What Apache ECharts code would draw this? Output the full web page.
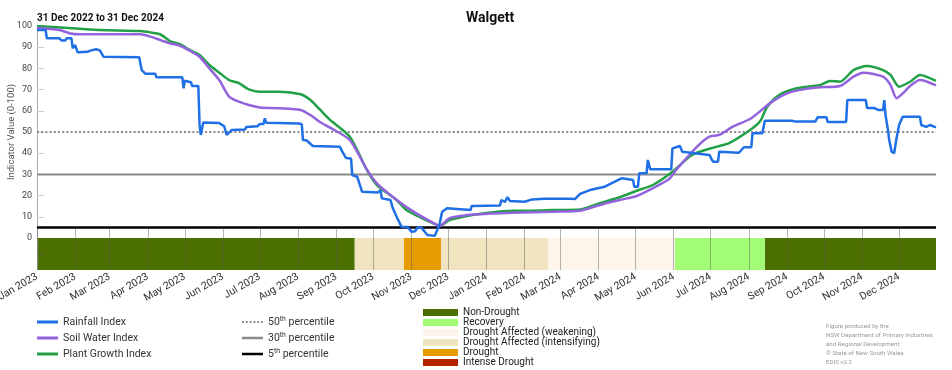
<!DOCTYPE html>
<html><head><meta charset="utf-8">
<script src="https://cdn.jsdelivr.net/npm/echarts@6/dist/echarts.min.js"></script>
<style>html,body{margin:0;padding:0;background:#fff}#c{width:952px;height:370px}</style>
</head><body><div id="c"></div>
<script>
const xMin = '2023-01-01';
const xMax = '2024-12-31';
const monthTicks = ['2023-01-01','2023-02-01','2023-03-01','2023-04-01','2023-05-01','2023-06-01','2023-07-01','2023-08-01','2023-09-01','2023-10-01','2023-11-01','2023-12-01',
  '2024-01-01','2024-02-01','2024-03-01','2024-04-01','2024-05-01','2024-06-01','2024-07-01','2024-08-01','2024-09-01','2024-10-01','2024-11-01','2024-12-01'];
const monthLabels = ['Jan 2023','Feb 2023','Mar 2023','Apr 2023','May 2023','Jun 2023','Jul 2023','Aug 2023','Sep 2023','Oct 2023','Nov 2023','Dec 2023',
  'Jan 2024','Feb 2024','Mar 2024','Apr 2024','May 2024','Jun 2024','Jul 2024','Aug 2024','Sep 2024','Oct 2024','Nov 2024','Dec 2024'];
const yAxisTitle = 'Indicator Value (0-100)';

const rainfall = [['2023-01-01',98.1],['2023-01-08',98.1],['2023-01-09',94.2],['2023-01-19',94.2],['2023-01-21',93.2],['2023-01-24',93.2],['2023-01-25',94.2],['2023-01-29',94.2],['2023-01-30',89.5],['2023-02-01',91],['2023-02-03',87.6],['2023-02-11',87.8],['2023-02-14',88.5],['2023-02-18',89],['2023-02-21',88.5],['2023-02-24',85.5],['2023-03-25',85.3],['2023-03-27',79.2],['2023-03-30',77.5],['2023-04-07',77.5],['2023-04-08',75.8],['2023-04-29',75.8],['2023-04-30',70.6],['2023-05-01',74.2],['2023-05-06',73.5],['2023-05-07',71.7],['2023-05-12',71.7],['2023-05-13',53.5],['2023-05-14',48.6],['2023-05-16',54.5],['2023-05-29',54.2],['2023-06-02',52.7],['2023-06-04',48.6],['2023-06-08',50.9],['2023-06-19',51.2],['2023-06-20',52.4],['2023-06-29',52.7],['2023-07-01',53.8],['2023-07-04',53.8],['2023-07-05',56.5],['2023-07-06',54.4],['2023-08-02',54],['2023-08-04',53.6],['2023-08-05',46.2],['2023-08-08',46],['2023-08-13',43.4],['2023-09-04',43],['2023-09-06',40.6],['2023-09-09',37.7],['2023-09-13',37.5],['2023-09-14',29.7],['2023-09-18',28.9],['2023-09-22',21.8],['2023-10-05',21.5],['2023-10-07',22.6],['2023-10-08',18.7],['2023-10-15',17.9],['2023-10-16',17.1],['2023-10-17',14],['2023-10-20',10],['2023-10-24',5.3],['2023-10-29',5.2],['2023-11-01',3],['2023-11-04',3.2],['2023-11-06',5],['2023-11-09',5],['2023-11-14',1.4],['2023-11-20',1],['2023-11-22',3.8],['2023-11-24',6.9],['2023-11-26',12.4],['2023-11-30',14],['2023-12-19',13.2],['2023-12-20',15.1],['2024-01-12',15.3],['2024-01-13',17.9],['2024-01-16',17],['2024-01-18',19.3],['2024-01-20',17.5],['2024-02-01',17.1],['2024-02-07',18.2],['2024-02-17',18.5],['2024-03-08',18.5],['2024-03-13',18.4],['2024-03-17',20.8],['2024-03-25',22.6],['2024-04-06',24.2],['2024-04-20',28.2],['2024-04-29',27.4],['2024-04-30',24.2],['2024-05-03',24.2],['2024-05-04',30.5],['2024-05-10',30.5],['2024-05-11',36.8],['2024-05-13',32.4],['2024-05-30',32.4],['2024-05-31',42.3],['2024-06-06',43.4],['2024-06-08',40.7],['2024-06-30',39.2],['2024-07-02',37],['2024-07-03',36],['2024-07-07',36],['2024-07-08',40.7],['2024-07-24',40.2],['2024-07-28',42.8],['2024-08-03',42.8],['2024-08-04',49.4],['2024-08-12',49.4],['2024-08-14',55.3],['2024-09-05',55.3],['2024-09-08',54.9],['2024-09-24',54.9],['2024-09-26',57],['2024-10-03',57],['2024-10-04',54.7],['2024-10-19',54.7],['2024-10-20',65.1],['2024-11-04',65.1],['2024-11-05',61.3],['2024-11-11',61.3],['2024-11-14',60.4],['2024-11-18',60.4],['2024-11-19',65],['2024-11-20',58],['2024-11-22',51],['2024-11-23',46.2],['2024-11-25',40.7],['2024-11-27',40],['2024-11-29',47.2],['2024-12-01',53.3],['2024-12-04',57.2],['2024-12-18',57.2],['2024-12-19',53.3],['2024-12-23',52.4],['2024-12-26',53.3],['2024-12-31',52.2]];

const soilWater = [['2023-01-01',99.2],['2023-01-19',98.1],['2023-01-28',96.5],['2023-02-05',96.1],['2023-03-26',96.1],['2023-04-03',95],['2023-04-11',93.4],['2023-04-19',91.8],['2023-04-27',90.7],['2023-05-05',88.4],['2023-05-13',85.5],['2023-05-21',80],['2023-05-29',74.5],['2023-06-06',66.7],['2023-06-14',64.3],['2023-06-22',62.7],['2023-07-01',61.6],['2023-07-17',61.2],['2023-08-03',60.4],['2023-08-11',58],['2023-08-19',54.6],['2023-08-28',51.7],['2023-09-12',46.2],['2023-09-26',32.1],['2023-10-04',25.8],['2023-10-22',17.1],['2023-11-05',11.6],['2023-11-22',6.1],['2023-11-24',5.7],['2023-12-02',9.4],['2023-12-16',10.8],['2024-01-04',11.5],['2024-01-22',11.9],['2024-02-24',12.4],['2024-03-17',12.9],['2024-04-02',15.6],['2024-04-18',17.9],['2024-05-02',19.8],['2024-05-12',22.6],['2024-05-28',27.7],['2024-06-03',32.1],['2024-06-20',43.1],['2024-06-30',47.8],['2024-07-08',48.6],['2024-07-19',52.5],['2024-08-03',56.5],['2024-08-18',63.5],['2024-09-01',68.2],['2024-09-14',70.1],['2024-09-28',71.1],['2024-10-14',71.7],['2024-10-25',76.1],['2024-11-02',78],['2024-11-18',76.1],['2024-11-24',72.2],['2024-11-29',65.9],['2024-12-04',68.2],['2024-12-10',71.7],['2024-12-18',74.5],['2024-12-31',72]];

const plantGrowth = [['2023-01-01',100],['2023-02-05',98.7],['2023-02-21',98.1],['2023-03-26',97.6],['2023-04-03',97],['2023-04-11',96.1],['2023-04-19',92.9],['2023-04-27',91.4],['2023-05-05',88.7],['2023-05-13',86.3],['2023-05-21',81.6],['2023-05-29',78],['2023-06-06',74.5],['2023-06-14',73],['2023-06-22',70.1],['2023-07-01',69],['2023-07-17',69],['2023-08-03',67.8],['2023-08-11',65.1],['2023-08-19',60.4],['2023-08-27',55.7],['2023-09-12',47.8],['2023-09-26',32],['2023-10-04',25],['2023-10-20',17.9],['2023-10-28',13.2],['2023-11-10',9.3],['2023-11-22',6.1],['2023-11-24',5.7],['2023-12-02',8.5],['2023-12-16',10.4],['2023-12-29',11.6],['2024-01-22',12.9],['2024-02-07',12.9],['2024-02-24',13.2],['2024-03-17',13.5],['2024-04-02',16.4],['2024-04-18',19.2],['2024-05-02',22.3],['2024-05-15',25],['2024-05-31',31.3],['2024-06-16',39.2],['2024-07-06',43.1],['2024-07-16',44.7],['2024-08-02',50.9],['2024-08-10',54.9],['2024-08-16',61.9],['2024-08-26',67.5],['2024-09-09',70.6],['2024-09-28',72.2],['2024-10-06',74.1],['2024-10-14',73.7],['2024-10-25',79.2],['2024-11-05',81.1],['2024-11-18',79.2],['2024-11-24',76.9],['2024-12-01',71.4],['2024-12-10',73.7],['2024-12-18',76.9],['2024-12-31',74.1]];

const percentileNames = ['50th percentile','30th percentile','5th percentile'];
const percentileValues = [50, 30, 5];

const droughtCategories = ['Non-Drought','Recovery','Drought Affected (weakening)','Drought Affected (intensifying)','Drought','Intense Drought'];
const droughtStarts = ['2023-01-01','2023-09-16','2023-10-26','2023-11-25','2024-02-20','2024-06-02','2024-08-14'];
const droughtEnds   = ['2023-09-16','2023-10-26','2023-11-25','2024-02-20','2024-06-02','2024-08-14','2024-12-31'];
const droughtClass  = [0, 3, 4, 3, 2, 1, 0];

const creditLines = ['Figure produced by the','NSW Department of Primary Industries','and Regional Development','\u00A9 State of New South Wales','EDIS v2.2'];

// styles
const lineColors = ['#1f6fe6', '#9363dd', '#22a045'];
const droughtColors = ['#4c7000', '#a2fd75', '#fdf5ea', '#f0e3bf', '#e69b00', '#b42300'];
const percentileStyles = [
  {color: '#8a8a8a', width: 2, type: [2, 2.2]},
  {color: '#8a8a8a', width: 2, type: 'solid'},
  {color: '#000000', width: 2.5, type: 'solid'}
];
const DOTS_ICON = 'path://M0,0h2v2h-2zM4,0h2v2h-2zM8,0h2v2h-2zM12,0h2v2h-2zM16,0h2v2h-2zM20,0h2v2h-2z';

const toTs = s => new Date(s.replace(/-/g, '/')).getTime();
const monthTs = monthTicks.map(toTs);
const xMinTs = toTs(xMin), xMaxTs = toTs(xMax);
const FONT = 'Roboto';

const series = [];
percentileNames.forEach((n, i) => {
  series.push({
    name: n, type: 'line', xAxisIndex: 0, yAxisIndex: 0, symbol: 'none', silent: true,
    data: [[xMinTs, percentileValues[i]], [xMaxTs, percentileValues[i]]],
    lineStyle: percentileStyles[i], itemStyle: {color: percentileStyles[i].color}, z: 1
  });
});
[['Rainfall Index', rainfall, 0], ['Soil Water Index', soilWater, 1], ['Plant Growth Index', plantGrowth, 2]].forEach(([n, d, i]) => {
  series.push({
    name: n, type: 'line', xAxisIndex: 0, yAxisIndex: 0, symbol: 'none', silent: true,
    smooth: i === 0 ? false : 0.25,
    data: d.map(([s, v]) => [toTs(s), v]),
    lineStyle: {color: lineColors[i], width: 2.5}, itemStyle: {color: lineColors[i]}, z: 3 + (2 - i)
  });
});
droughtCategories.forEach((cat, ci) => {
  const data = [];
  droughtClass.forEach((c, k) => { if (c === ci) data.push([toTs(droughtStarts[k]), toTs(droughtEnds[k])]); });
  series.push({
    name: cat, type: 'custom', xAxisIndex: 1, yAxisIndex: 1, silent: true,
    itemStyle: {color: droughtColors[ci]},
    encode: {x: [0, 1]},
    data: data,
    renderItem: function (params, api) {
      const p0 = api.coord([api.value(0), 2]);
      const p1 = api.coord([api.value(1), 0]);
      return {type: 'rect', shape: {x: p0[0], y: p0[1], width: p1[0] - p0[0], height: p1[1] - p0[1]},
        style: {fill: droughtColors[ci]}};
    },
    z: 2
  });
});

const option = {
  animation: false,
  backgroundColor: '#fff',
  textStyle: {fontFamily: FONT},
  title: [
    {text: 'Walgett', left: 461, top: 6, textStyle: {fontFamily: FONT, fontSize: 14, fontWeight: 'bold', color: '#111'}},
    {text: '31 Dec 2022 to 31 Dec 2024', left: 37, top: 13, padding: 0, textStyle: {fontFamily: FONT, fontSize: 10, fontWeight: 'bold', color: '#111'}}
  ],
  grid: [
    {left: 37, right: 16, top: 26, height: 212, containLabel: false, outerBoundsMode: 'none'},
    {left: 37, right: 16, top: 238, height: 32, containLabel: false, outerBoundsMode: 'none'}
  ],
  xAxis: [
    {type: 'value', gridIndex: 0, min: xMinTs, max: xMaxTs, show: false},
    {type: 'value', gridIndex: 1, min: xMinTs, max: xMaxTs, z: 5,
      axisLine: {show: false},
      splitLine: {show: false},
      axisTick: {show: true, inside: true, length: 42, customValues: monthTs, lineStyle: {color: 'rgba(90,90,90,0.45)', width: 1}},
      axisLabel: {show: true, customValues: monthTs, rotate: 30, margin: 6, fontSize: 10.5, color: '#333', fontFamily: FONT,
        formatter: v => { const i = monthTs.indexOf(v); return i >= 0 ? monthLabels[i] : ''; }}
    }
  ],
  yAxis: [
    {type: 'value', gridIndex: 0, min: 0, max: 100, interval: 10,
      axisLine: {show: true, lineStyle: {color: '#aaa', width: 1}},
      axisTick: {show: true, inside: true, length: 7, lineStyle: {color: '#ccc'}},
      axisLabel: {fontSize: 9, color: '#444', margin: 5, fontFamily: FONT},
      splitLine: {show: false}
    },
    {type: 'value', gridIndex: 1, min: 0, max: 2, z: 5,
      axisLine: {show: true, lineStyle: {color: '#aaa', width: 1}},
      axisTick: {show: true, inside: true, length: 7, customValues: [1], lineStyle: {color: 'rgba(90,90,90,0.5)'}},
      axisLabel: {show: false}, splitLine: {show: false}
    }
  ],
  legend: [
    {data: ['Rainfall Index', 'Soil Water Index', 'Plant Growth Index'].map(n => ({name: n, icon: 'rect'})),
      orient: 'vertical', left: 37, top: 316, padding: 0,
      itemWidth: 21, itemHeight: 3, itemGap: 4, selectedMode: false,
      textStyle: {fontFamily: FONT, fontSize: 10.5, color: '#333', lineHeight: 12}},
    {data: percentileNames.map((n, i) => ({name: n, icon: i === 0 ? DOTS_ICON : 'rect'})),
      orient: 'vertical', left: 242, top: 316, padding: 0,
      itemWidth: 21, itemHeight: 2.5, itemGap: 4, selectedMode: false,
      formatter: n => n.replace(/^(\d+)(th)/, '$1{sup|$2}'),
      textStyle: {fontFamily: FONT, fontSize: 10.5, color: '#333', lineHeight: 12,
        rich: {sup: {fontFamily: FONT, fontSize: 7, color: '#333', verticalAlign: 'top', padding: [0, 0, 5, 0]}}}},
    {data: droughtCategories, orient: 'vertical', left: 423, top: 307.5, padding: 0, icon: 'rect',
      itemWidth: 35, itemHeight: 7, itemGap: 0, selectedMode: false, height: 62,
      textStyle: {fontFamily: FONT, fontSize: 10, lineHeight: 9.6, color: '#222'}}
  ],
  graphic: [
    {type: 'text', x: 11.5, y: 132, rotation: Math.PI / 2, silent: true,
      style: {text: yAxisTitle, fontFamily: FONT, fontSize: 9.5, fill: '#555', align: 'center', verticalAlign: 'middle'}},
    {type: 'text', left: 826, top: 322, silent: true,
      style: {text: creditLines.join('\n'), fontFamily: FONT, fontSize: 6.2, lineHeight: 9, fill: '#9a9a9a'}}
  ],
  series: series
};

const chart = echarts.init(document.getElementById('c'), null, {renderer: 'canvas'});
chart.setOption(option);
</script>
</body></html>
